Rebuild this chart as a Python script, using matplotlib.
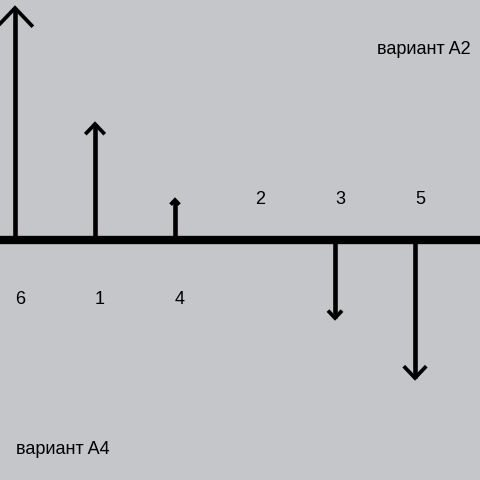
import matplotlib
matplotlib.use("Agg")
import matplotlib.pyplot as plt

# arrow labels, left to right, and their signed values (up = positive)
labels = ["6", "1", "4", "2", "3", "5"]
values = [2.9, 1.45, 0.5, 0.0, -0.975, -1.725]

top_note = "вариант A2"
bottom_note = "вариант A4"

BG = "#c5c6ca"

fig = plt.figure(figsize=(4.8, 4.8), dpi=100, facecolor=BG)
ax = fig.add_axes([0, 0, 1, 1], facecolor=BG)
# one category step = 80 px, one value unit = 80 px
ax.set_xlim(-0.1875, 5.8125)
ax.set_ylim(-3, 3)
ax.axis("off")

ax.axhline(0, color="black", lw=6.0, zorder=2)

for i, (lab, v) in enumerate(zip(labels, values)):
    if v != 0:
        ax.plot([i, i], [0, v], color="black", lw=3.3, solid_capstyle="butt", zorder=3)
        s = 0.07 * abs(v) + 0.02
        d = 1 if v > 0 else -1
        ax.plot([i - s, i, i + s], [v - d * s * 1.05, v, v - d * s * 1.05],
                color="black", lw=2.7, solid_joinstyle="miter",
                solid_capstyle="butt", zorder=3)
    ly = -0.75 if v > 0 else 0.5
    ax.text(i + 0.0625, ly, lab, ha="center", va="center",
            fontsize=13, family="Liberation Sans", color="black")

ax.text(0.785, 0.888, top_note, transform=ax.transAxes, ha="left", va="baseline",
        fontsize=13, family="Liberation Sans", color="black")
ax.text(0.033, 0.054, bottom_note, transform=ax.transAxes, ha="left", va="baseline",
        fontsize=13, family="Liberation Sans", color="black")

fig.savefig("out.png", dpi=100, facecolor=BG)
